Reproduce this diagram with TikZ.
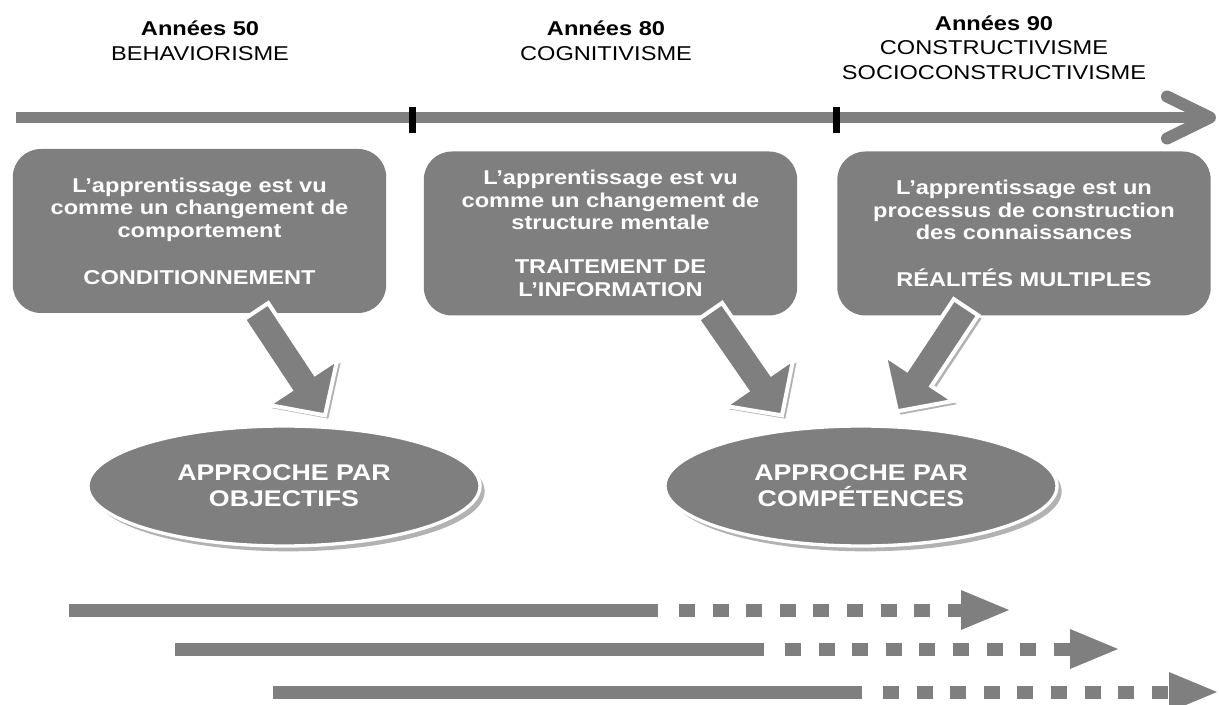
\documentclass[tikz,border=0pt]{standalone}
\usepackage{fontspec}
\setmainfont{Liberation Sans}[FakeStretch=1.18]
\usetikzlibrary{calc,shapes.geometric,shadows}
\definecolor{fillGray}{RGB}{127,127,127}
\tikzset{
  period/.style={align=center, font=\fontsize{15pt}{18.5pt}\selectfont},
  idea/.style={rectangle, rounded corners=21pt, fill=fillGray, text=white, align=center,
    minimum width=280pt, minimum height=123pt, inner sep=0pt,
    font=\bfseries\fontsize{15pt}{17pt}\selectfont},
  approach/.style={ellipse, fill=fillGray, draw=white, line width=2.5pt, text=white, align=center,
    minimum width=294pt, minimum height=90pt, inner sep=0pt,
    font=\bfseries\fontsize{17pt}{19.5pt}\selectfont,
    drop shadow={shadow xshift=3.5pt, shadow yshift=-4pt, fill=black!30, opacity=1}},
  bigArrow/.style={fill=fillGray, draw=white, line width=3pt, line join=miter,
    drop shadow={shadow xshift=2.5pt, shadow yshift=-2.5pt, fill=black!30, opacity=1}}
}
%% fat arrow from #1 to the tip #2
\newcommand{\thickArrow}[2]{%
  \coordinate (ahBase) at ($(#2)!30pt!(#1)$);
  \path[bigArrow] ($(#1)!11pt!90:(#2)$) -- ($(ahBase)!11pt!90:(#2)$) -- ($(ahBase)!31pt!90:(#2)$) -- (#2)
    -- ($(ahBase)!31pt!-90:(#2)$) -- ($(ahBase)!11pt!-90:(#2)$) -- ($(#1)!11pt!-90:(#2)$) -- cycle;
}
\begin{document}
\begin{tikzpicture}[x=0.75pt, y=-0.75pt]
  \useasboundingbox (0,0) rectangle (1219,705);
  \pgfmathsetmacro{\tlY}{117.5};
  %% Periods
  \node[period] (p50) at (200,40.5) {\textbf{Années 50}\\BEHAVIORISME};
  \node[period] (p80) at (606,40.5) {\textbf{Années 80}\\COGNITIVISME};
  \node[period] (p90) at (994,47.5) {\textbf{Années 90}\\CONSTRUCTIVISME\\SOCIOCONSTRUCTIVISME};
  %% Time line
  \coordinate (tlStart) at (16,\tlY);
  \coordinate (tlEnd) at (1210,\tlY);
  \draw[line width=8.25pt, draw=fillGray] (tlStart) -- (tlEnd);
  \draw[line width=9pt, draw=fillGray, line cap=round, line join=round]
    ($(tlEnd)+(-43,-21)$) -- (tlEnd) -- ($(tlEnd)+(-43,21)$);
  \foreach \tx in {412,836}
    \draw[line width=5.25pt] (\tx,107) -- (\tx,133);
  %% Theories
  \node[idea] (behav) at (199.5,231) {L'apprentissage est vu\\comme un changement de\\comportement\\[18pt]CONDITIONNEMENT};
  \node[idea] (cogn) at (610.5,233.5) {L'apprentissage est vu\\comme un changement de\\structure mentale\\[16pt]TRAITEMENT DE\\L'INFORMATION};
  \node[idea] (constr) at (1024,233.5) {L'apprentissage est un\\processus de construction\\des connaissances\\[18pt]RÉALITÉS MULTIPLES};
  %% Approaches
  \node[approach] (apo) at (284,486) {APPROCHE PAR\\OBJECTIFS};
  \node[approach] (apc) at (861,486) {APPROCHE PAR\\COMPÉTENCES};
  %% Links
  \thickArrow{$(behav.south)+(56.5,-2)$}{$(apo.north)+(41,-9)$}
  \thickArrow{$(cogn.south)+(99.5,-4.5)$}{$(apc.north)+(-79,-9)$}
  \thickArrow{$(constr.south)+(-58,-8.5)$}{$(apc.north)+(36,-13)$}
  %% Continuing arrows
  \foreach \xs/\yy/\xt in {69/610/1009, 175/649/1118, 273/692/1217}{
    \fill[fillGray] (\xs,\yy-6.5) rectangle (\xs+589,\yy+6.5);
    \draw[fillGray, line width=9.75pt, dash pattern=on 12pt off 13.2pt] (\xs+610,\yy) -- (\xt-40,\yy);
    \fill[fillGray] (\xt-48,\yy-20) -- (\xt,\yy) -- (\xt-48,\yy+20) -- cycle;
  }
\end{tikzpicture}
\end{document}
